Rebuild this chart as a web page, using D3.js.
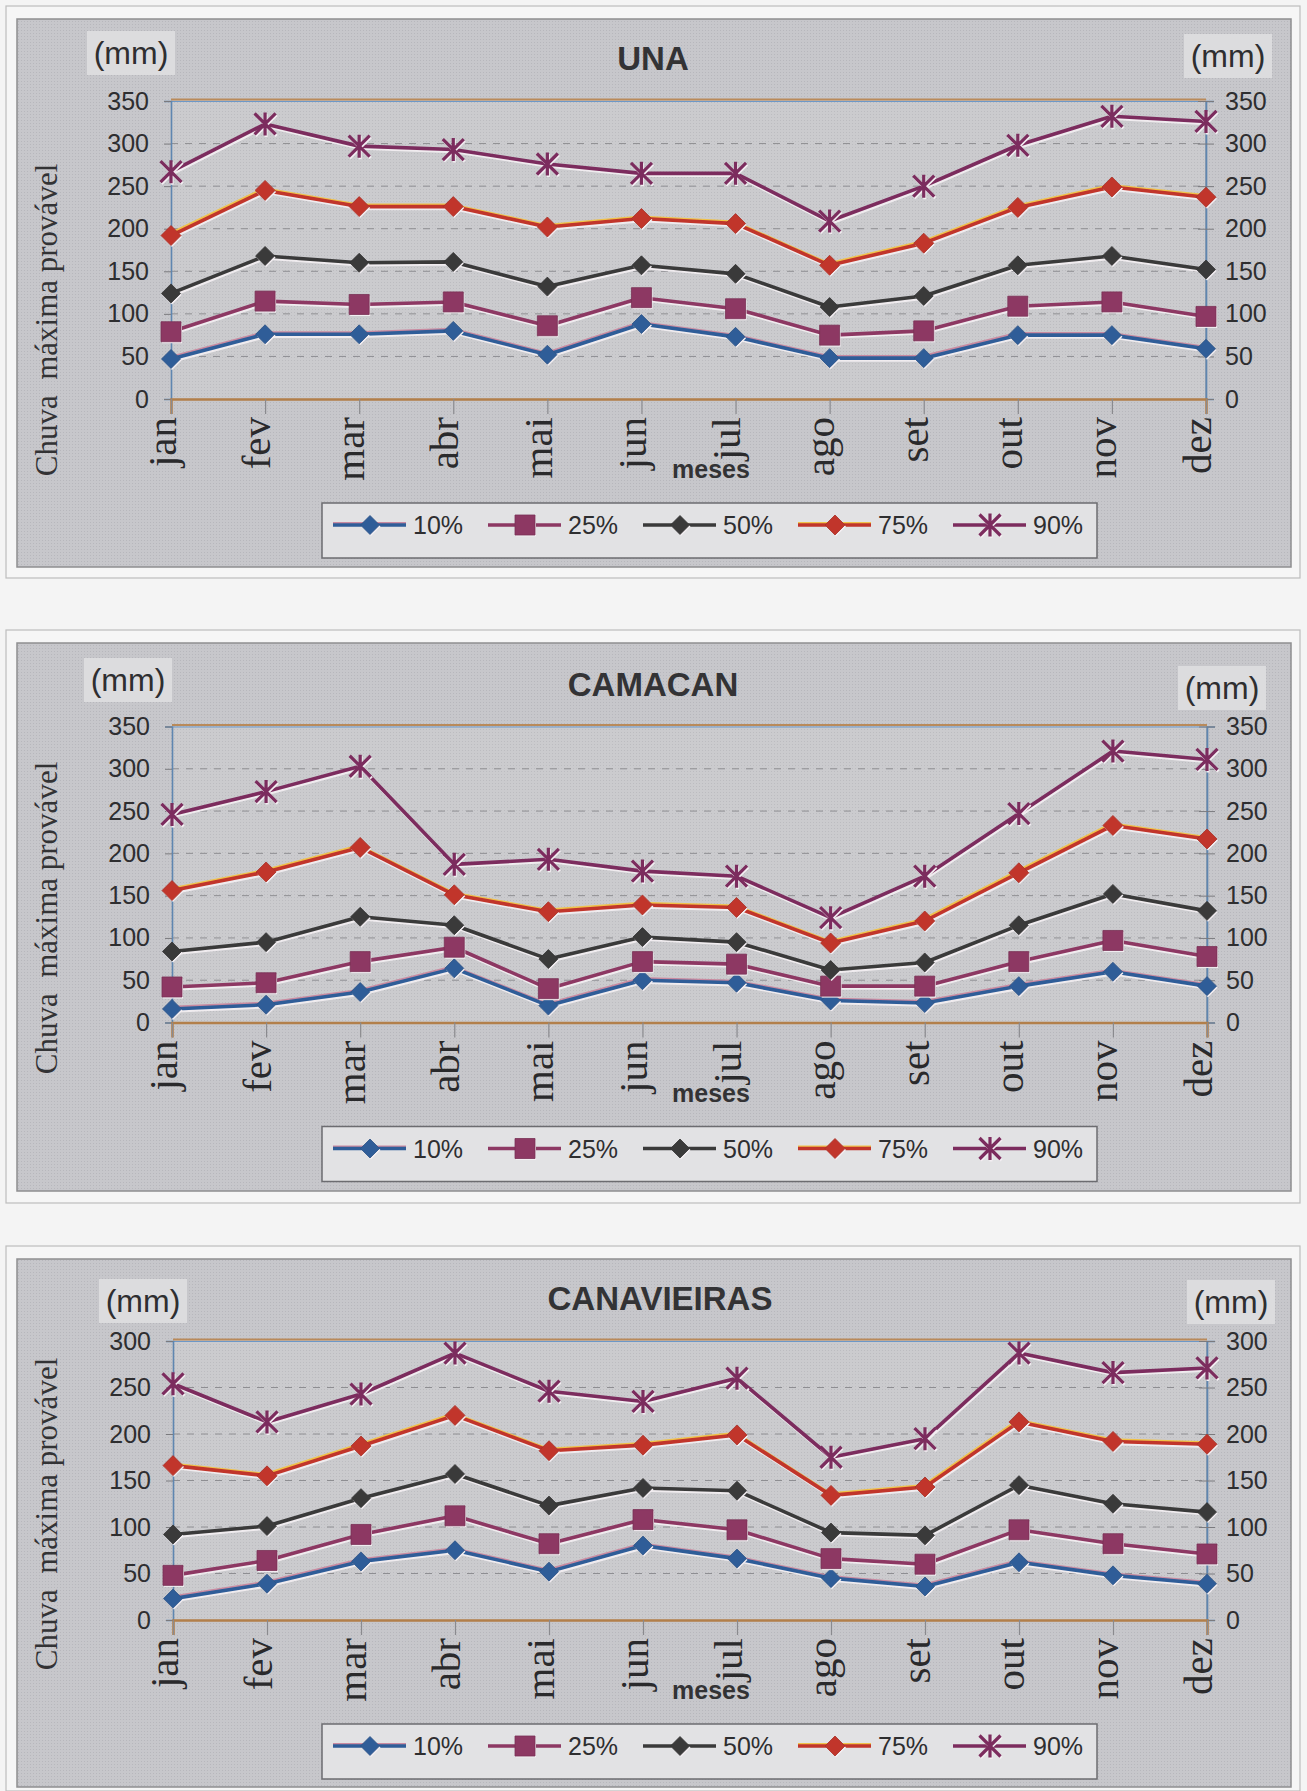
<!DOCTYPE html>
<html>
<head>
<meta charset="utf-8">
<script src="https://cdn.jsdelivr.net/npm/d3@7/dist/d3.min.js"></script>
<style>
  html, body { margin: 0; padding: 0; background: #f3f3f3; }
  svg { display: block; }
</style>
</head>
<body>
<svg id="page" width="1307" height="1791"></svg>
<script>
// Months on the category axis
const months = ["jan", "fev", "mar", "abr", "mai", "jun", "jul", "ago", "set", "out", "nov", "dez"];
// Probability levels (legend)
const levels = ["10%", "25%", "50%", "75%", "90%"];
// Tick labels of the value axes
const ticks350 = [0, 50, 100, 150, 200, 250, 300, 350];
const ticks300 = [0, 50, 100, 150, 200, 250, 300];

// UNA – maximum probable rainfall (mm)
const una10 = [47, 76, 76, 80, 52, 88, 73, 48, 48, 75, 75, 59];
const una25 = [79, 115, 111, 114, 86, 119, 106, 75, 80, 109, 114, 97];
const una50 = [124, 168, 160, 161, 132, 157, 147, 108, 121, 157, 168, 152];
const una75 = [192, 245, 226, 226, 202, 212, 206, 157, 183, 225, 249, 237];
const una90 = [267, 323, 297, 293, 276, 265, 265, 209, 250, 298, 332, 326];

// CAMACAN
const cam10 = [16, 21, 36, 64, 20, 50, 47, 26, 23, 43, 60, 43];
const cam25 = [42, 47, 72, 89, 40, 72, 69, 43, 43, 72, 97, 78];
const cam50 = [84, 95, 125, 115, 75, 101, 95, 62, 71, 115, 152, 132];
const cam75 = [156, 178, 207, 151, 131, 139, 136, 94, 120, 177, 233, 217];
const cam90 = [246, 273, 303, 187, 193, 179, 173, 124, 173, 247, 321, 311];

// CANAVIEIRAS
const can10 = [23, 39, 63, 75, 52, 80, 66, 45, 36, 62, 48, 39];
const can25 = [48, 64, 92, 112, 82, 108, 97, 66, 60, 97, 82, 71];
const can50 = [92, 101, 131, 157, 123, 142, 139, 94, 91, 145, 125, 116];
const can75 = [166, 155, 187, 220, 182, 188, 199, 134, 143, 213, 192, 189];
const can90 = [254, 213, 243, 287, 246, 235, 260, 175, 195, 287, 266, 271];

// Series appearance
const seriesStyle = [
  { color: "#2f5d98", halo: "#c98aa0", marker: "diamond", size: 19 },
  { color: "#8d3863", halo: "#f2e6ee", marker: "square", size: 20 },
  { color: "#3a3a3a", halo: "#f0f0f0", marker: "diamond", size: 19 },
  { color: "#c1352b", halo: "#f0c24a", marker: "diamond", size: 20 },
  { color: "#7c2c5e", halo: "#f2e6ee", marker: "asterisk", size: 21 }
];

const charts = [
  { title: "UNA", series: [una10, una25, una50, una75, una90], ticks: ticks350,
    panel: [17, 19, 1291, 567], plot: { x0: 171, x1: 1206, y0: 399, y1: 101 },
    titleX: 653, mmL: [131, 53], mmR: [1228, 56], yTitle: 320 },
  { title: "CAMACAN", series: [cam10, cam25, cam50, cam75, cam90], ticks: ticks350,
    panel: [17, 643, 1291, 1191], plot: { x0: 172, x1: 1207, y0: 1022.5, y1: 726.5 },
    titleX: 653, mmL: [128, 680], mmR: [1222, 688], yTitle: 918 },
  { title: "CANAVIEIRAS", series: [can10, can25, can50, can75, can90], ticks: ticks300,
    panel: [17, 1259, 1291, 1787], plot: { x0: 173, x1: 1207, y0: 1620, y1: 1341 },
    titleX: 660, mmL: [143, 1301], mmR: [1231, 1302], yTitle: 1514 }
];

const svg = d3.select("#page");

// page frames around each figure
svg.append("rect").attr("x", 0).attr("y", 0).attr("width", 1307).attr("height", 1791).attr("fill", "#f4f4f4");
[[6, 6, 1300, 578], [6, 630, 1300, 1203], [6, 1246, 1300, 1791]].forEach(f => {
  svg.append("rect").attr("x", f[0]).attr("y", f[1]).attr("width", f[2] - f[0]).attr("height", f[3] - f[1])
    .attr("fill", "#f6f6f6").attr("stroke", "#bdbdbd").attr("stroke-width", 1.2);
});

// fine halftone texture
const defs = svg.append("defs");
const pat = defs.append("pattern").attr("id", "dots").attr("width", 3).attr("height", 3)
  .attr("patternUnits", "userSpaceOnUse");
pat.append("rect").attr("width", 3).attr("height", 3).attr("fill", "#c7c7cb");
pat.append("rect").attr("width", 1).attr("height", 1).attr("fill", "#b7b7bc");
const patPlot = defs.append("pattern").attr("id", "dotsPlot").attr("width", 3).attr("height", 3)
  .attr("patternUnits", "userSpaceOnUse");
patPlot.append("rect").attr("width", 3).attr("height", 3).attr("fill", "#cbcbce");
patPlot.append("rect").attr("width", 1).attr("height", 1).attr("fill", "#bcbcc0");

function markerPath(type, s) {
  const h = s / 2;
  if (type === "diamond") return `M0,${-h}L${h},0L0,${h}L${-h},0Z`;
  if (type === "square") return `M${-h},${-h}H${h}V${h}H${-h}Z`;
  return `M${-h},${-h}L${h},${h}M${-h},${h}L${h},${-h}M0,${-h - 1}V${h + 1}`;
}

function drawMarker(g, type, s, color, x, y) {
  if (type === "asterisk") {
    g.append("path").attr("d", markerPath(type, s)).attr("transform", `translate(${x + 1},${y + 1.5})`)
      .attr("stroke", "#f3eef2").attr("stroke-width", 3).attr("fill", "none");
    g.append("path").attr("d", markerPath(type, s)).attr("transform", `translate(${x},${y})`)
      .attr("stroke", color).attr("stroke-width", 3.2).attr("fill", "none");
  } else {
    g.append("path").attr("d", markerPath(type, s)).attr("transform", `translate(${x + 1},${y + 1.5})`)
      .attr("fill", "#f3eef2");
    g.append("path").attr("d", markerPath(type, s)).attr("transform", `translate(${x},${y})`)
      .attr("fill", color).attr("stroke", d3.color(color).darker(0.4)).attr("stroke-width", 0.8);
  }
}

charts.forEach(c => {
  const g = svg.append("g");
  const [px0, py0, px1, py1] = c.panel;
  const P = c.plot;

  // panel background
  g.append("rect").attr("x", px0).attr("y", py0).attr("width", px1 - px0).attr("height", py1 - py0)
    .attr("fill", "url(#dots)").attr("stroke", "#8e8e90").attr("stroke-width", 1.5);

  const x = d3.scalePoint().domain(months).range([P.x0, P.x1]);
  const ymax = c.ticks[c.ticks.length - 1];
  const y = d3.scaleLinear().domain([0, ymax]).range([P.y0, P.y1]);

  // plot area
  g.append("rect").attr("x", P.x0).attr("y", P.y1).attr("width", P.x1 - P.x0).attr("height", P.y0 - P.y1)
    .attr("fill", "url(#dotsPlot)");

  // dashed gridlines
  g.append("g").selectAll("line").data(c.ticks.slice(1, -1)).join("line")
    .attr("x1", P.x0).attr("x2", P.x1).attr("y1", d => y(d)).attr("y2", d => y(d))
    .attr("stroke", "#8e8e92").attr("stroke-width", 1).attr("stroke-dasharray", "7,7");

  // frame
  g.append("line").attr("x1", P.x0).attr("x2", P.x1).attr("y1", P.y1 - 1.5).attr("y2", P.y1 - 1.5)
    .attr("stroke", "#b98a5a").attr("stroke-width", 2);
  g.append("line").attr("x1", P.x0).attr("x2", P.x1).attr("y1", P.y1 + 0.5).attr("y2", P.y1 + 0.5)
    .attr("stroke", "#6d98c8").attr("stroke-width", 1.2);
  g.append("line").attr("x1", P.x1).attr("x2", P.x1).attr("y1", P.y1).attr("y2", P.y0)
    .attr("stroke", "#7f93a6").attr("stroke-width", 1.5);

  // left and right value axes
  const yl = g.append("g").attr("transform", `translate(${P.x0},0)`)
    .call(d3.axisLeft(y).tickValues(c.ticks).tickSize(7).tickPadding(15));
  const yr = g.append("g").attr("transform", `translate(${P.x1},0)`)
    .call(d3.axisRight(y).tickValues(c.ticks).tickSize(8).tickPadding(11));
  [yl, yr].forEach(a => {
    a.select(".domain").attr("stroke", "#5f86b0").attr("stroke-width", 1.6);
    a.selectAll(".tick line").attr("stroke", "#7a7a7e");
    a.selectAll(".tick text").attr("font-family", "'Liberation Sans', Arial, sans-serif")
      .attr("font-size", 25).attr("fill", "#2e2e30");
  });
  yr.selectAll(".tick line").attr("x1", -8);

  // category axis
  const xa = g.append("g").attr("transform", `translate(0,${P.y0})`)
    .call(d3.axisBottom(x).tickSize(15).tickPadding(0));
  xa.select(".domain").attr("stroke", "#b27f4a").attr("stroke-width", 2.5);
  xa.selectAll(".tick line").attr("stroke", "#8a8a8e").attr("stroke-width", 1.2);
  xa.selectAll(".tick text")
    .attr("font-family", "'Liberation Serif', 'Times New Roman', serif")
    .attr("font-size", 41).attr("fill", "#2a2a2c")
    .attr("text-anchor", "end").attr("dy", null).attr("y", 0)
    .attr("transform", "translate(4,18) rotate(-90)");

  // series lines and markers
  c.series.forEach((vals, i) => {
    const st = seriesStyle[i];
    const pts = vals.map((v, k) => [x(months[k]), y(v)]);
    const line = d3.line();
    g.append("path").attr("d", line(pts.map(p => [p[0] + 1, p[1] + 2.2]))).attr("fill", "none")
      .attr("stroke", "#f4eff3").attr("stroke-width", 3).attr("opacity", 0.9);
    if (i === 3 || i === 0) {
      g.append("path").attr("d", line(pts.map(p => [p[0] - 1, p[1] - 1.6]))).attr("fill", "none")
        .attr("stroke", st.halo).attr("stroke-width", 3);
    }
    g.append("path").attr("d", line(pts)).attr("fill", "none")
      .attr("stroke", st.color).attr("stroke-width", 3.6).attr("stroke-linejoin", "round");
    pts.forEach(p => drawMarker(g, st.marker, st.size, st.color, p[0], p[1]));
  });

  // title
  g.append("text").attr("x", c.titleX).attr("y", P.y1 - 31)
    .attr("text-anchor", "middle").attr("font-family", "'Liberation Sans', Arial, sans-serif")
    .attr("font-weight", "bold").attr("font-size", 33).attr("fill", "#333335").text(c.title);

  // unit labels with light boxes
  [c.mmL, c.mmR].forEach(m => {
    g.append("rect").attr("x", m[0] - 44).attr("y", m[1] - 22).attr("width", 88).attr("height", 44)
      .attr("fill", "#dcdcde");
    g.append("text").attr("x", m[0]).attr("y", m[1] + 11).attr("text-anchor", "middle")
      .attr("font-family", "'Liberation Sans', Arial, sans-serif").attr("font-size", 32)
      .attr("fill", "#2e2e30").text("(mm)");
  });

  // axis titles
  g.append("text").attr("transform", `translate(57,${c.yTitle}) rotate(-90)`).attr("text-anchor", "middle")
    .attr("font-family", "'Liberation Serif', 'Times New Roman', serif").attr("font-size", 31)
    .style("white-space", "pre").attr("fill", "#333335").text("Chuva  máxima provável");
  g.append("text").attr("x", 711).attr("y", P.y0 + 79).attr("text-anchor", "middle")
    .attr("font-family", "'Liberation Sans', Arial, sans-serif").attr("font-weight", "bold")
    .attr("font-size", 25).attr("fill", "#333335").text("meses");

  // legend
  const ly = P.y0 + 104;
  g.append("rect").attr("x", 322).attr("y", ly).attr("width", 775).attr("height", 55)
    .attr("fill", "#e2e2e4").attr("stroke", "#6c6c70").attr("stroke-width", 1.5);
  levels.forEach((lab, i) => {
    const st = seriesStyle[i];
    const lx = 333 + i * 155, cy = ly + 22;
    if (i === 3 || i === 0) {
      g.append("line").attr("x1", lx).attr("x2", lx + 73).attr("y1", cy - 1.6).attr("y2", cy - 1.6)
        .attr("stroke", st.halo).attr("stroke-width", 3);
    }
    g.append("line").attr("x1", lx).attr("x2", lx + 73).attr("y1", cy).attr("y2", cy)
      .attr("stroke", st.color).attr("stroke-width", 3.6);
    drawMarker(g, st.marker, st.size, st.color, lx + 37, cy);
    g.append("text").attr("x", lx + 80).attr("y", cy + 9)
      .attr("font-family", "'Liberation Sans', Arial, sans-serif").attr("font-size", 25)
      .attr("fill", "#2e2e30").text(lab);
  });
});
</script>
</body>
</html>
